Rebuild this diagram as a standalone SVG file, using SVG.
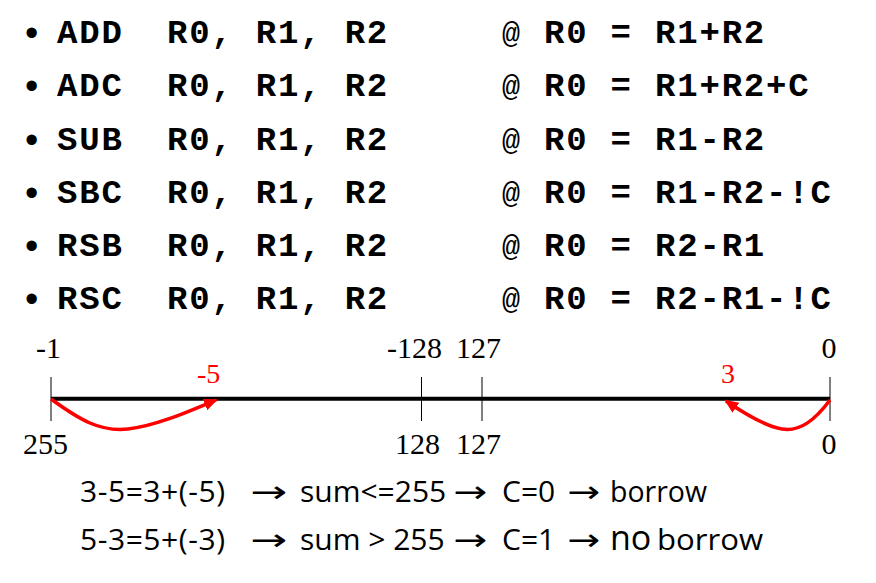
<svg xmlns="http://www.w3.org/2000/svg" width="876" height="583" viewBox="0 0 876 583">
<style>
.code{font-family:"Liberation Mono","Courier New",monospace;font-weight:bold;font-size:34px;letter-spacing:1.8px;fill:#000}
.at{font-family:"Liberation Mono","Courier New",monospace;font-weight:normal;font-size:30px;fill:#000}
.bul{font-family:"Liberation Sans",Arial,sans-serif;font-size:38px;fill:#000}
.num{font-family:"Liberation Serif","Times New Roman",serif;font-size:30px;fill:#000}
.red{font-family:"Liberation Serif","Times New Roman",serif;font-size:28px;fill:#ff0000}
.note{font-family:"Open Sans","Noto Sans",sans-serif;font-size:30px;fill:#000}
.arr{font-family:"DejaVu Sans",sans-serif;font-size:30px;fill:#000}
.tick{stroke:#000;stroke-width:1}
.axis{stroke:#000;stroke-width:4}
.jump{fill:none;stroke:#ff0000;stroke-width:3.5;marker-end:url(#rh)}
</style>
<defs>
<marker id="rh" markerUnits="userSpaceOnUse" markerWidth="16" markerHeight="14" refX="12" refY="6" orient="auto">
<path d="M0,0 L14,6 L0,12 Z" fill="#ff0000"/>
</marker>
</defs>

<g id="instructions">
<g id="row-add">
<text class="bul" x="25" y="46">•</text>
<text class="code" x="57" y="43">ADD</text>
<text class="code" x="167" y="43">R0, R1, R2</text>
<text class="at" x="502" y="43">@</text>
<text class="code" x="544" y="43">R0 = R1+R2</text>
</g>
<g id="row-adc">
<text class="bul" x="25" y="99">•</text>
<text class="code" x="57" y="96">ADC</text>
<text class="code" x="167" y="96">R0, R1, R2</text>
<text class="at" x="502" y="96">@</text>
<text class="code" x="544" y="96">R0 = R1+R2+C</text>
</g>
<g id="row-sub">
<text class="bul" x="25" y="153">•</text>
<text class="code" x="57" y="150">SUB</text>
<text class="code" x="167" y="150">R0, R1, R2</text>
<text class="at" x="502" y="150">@</text>
<text class="code" x="544" y="150">R0 = R1-R2</text>
</g>
<g id="row-sbc">
<text class="bul" x="25" y="206">•</text>
<text class="code" x="57" y="203">SBC</text>
<text class="code" x="167" y="203">R0, R1, R2</text>
<text class="at" x="502" y="203">@</text>
<text class="code" x="544" y="203">R0 = R1-R2-!C</text>
</g>
<g id="row-rsb">
<text class="bul" x="25" y="259">•</text>
<text class="code" x="57" y="256">RSB</text>
<text class="code" x="167" y="256">R0, R1, R2</text>
<text class="at" x="502" y="256">@</text>
<text class="code" x="544" y="256">R0 = R2-R1</text>
</g>
<g id="row-rsc">
<text class="bul" x="25" y="312">•</text>
<text class="code" x="57" y="309">RSC</text>
<text class="code" x="167" y="309">R0, R1, R2</text>
<text class="at" x="502" y="309">@</text>
<text class="code" x="544" y="309">R0 = R2-R1-!C</text>
</g>
</g>

<g id="numberline">
<line class="axis" x1="51" y1="398.7" x2="830" y2="398.7"/>
<line class="tick" x1="51" y1="377" x2="51" y2="421"/>
<line class="tick" x1="421.5" y1="377" x2="421.5" y2="421"/>
<line class="tick" x1="482" y1="377" x2="482" y2="421"/>
<line class="tick" x1="830" y1="377" x2="830" y2="421"/>
<text class="num" x="36" y="358">-1</text>
<text class="num" x="387" y="358">-128</text>
<text class="num" x="456" y="358">127</text>
<text class="num" x="829" y="358" text-anchor="middle">0</text>
<text class="num" x="23" y="454">255</text>
<text class="num" x="395" y="454">128</text>
<text class="num" x="456" y="454">127</text>
<text class="num" x="829" y="454" text-anchor="middle">0</text>
<text class="red" x="197" y="383">-5</text>
<text class="red" x="721" y="383">3</text>
</g>

<g id="connectors">
<path class="jump" d="M51,399 C80,420 100,432 128,429 C155,426 185,413 216,400"/>
<path class="jump" d="M830,400 C815,420 800,432 782,429 C765,426 745,414 726,401"/>
</g>

<g id="notes">
<g id="note-1">
<text class="note" x="80" y="502" textLength="145" lengthAdjust="spacing">3-5=3+(-5)</text>
<text class="arr" x="250" y="502" textLength="37" lengthAdjust="spacingAndGlyphs">→</text>
<text class="note" x="300" y="502">sum&lt;=255</text>
<text class="arr" x="453" y="502" textLength="34" lengthAdjust="spacingAndGlyphs">→</text>
<text class="note" x="502" y="502">C=0</text>
<text class="arr" x="567" y="502" textLength="33" lengthAdjust="spacingAndGlyphs">→</text>
<text class="note" x="610" y="502" textLength="97" lengthAdjust="spacingAndGlyphs">borrow</text>
</g>
<g id="note-2">
<text class="note" x="80" y="550" textLength="145" lengthAdjust="spacing">5-3=5+(-3)</text>
<text class="arr" x="250" y="550" textLength="37" lengthAdjust="spacingAndGlyphs">→</text>
<text class="note" x="300" y="550">sum &gt; 255</text>
<text class="arr" x="453" y="550" textLength="34" lengthAdjust="spacingAndGlyphs">→</text>
<text class="note" x="502" y="550">C=1</text>
<text class="arr" x="567" y="550" textLength="33" lengthAdjust="spacingAndGlyphs">→</text>
<text class="note" x="610" y="550" style="font-size:34px">no</text>
<text class="note" x="657" y="550" textLength="106" lengthAdjust="spacingAndGlyphs">borrow</text>
</g>
</g>
</svg>
